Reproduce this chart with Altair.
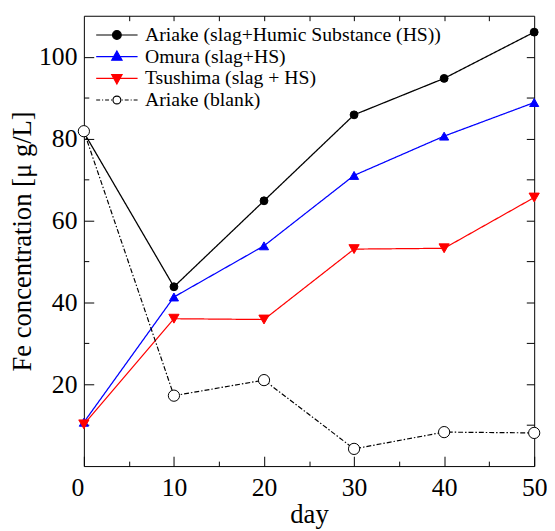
import altair as alt
import pandas as pd

days = [0, 10, 20, 30, 40, 50]
ariake = [81.5, 43.8, 64.8, 85.8, 94.7, 106.0]
omura = [10.7, 41.3, 53.8, 71.0, 80.6, 88.8]
tsushima = [10.2, 36.0, 35.8, 53.0, 53.2, 65.6]
blank = [81.8, 17.2, 21.0, 4.2, 8.3, 8.1]

series_names = [
    "Ariake (slag+Humic Substance (HS))",
    "Omura (slag+HS)",
    "Tsushima (slag + HS)",
    "Ariake (blank)",
]
series_values = [ariake, omura, tsushima, blank]

x_major = [0, 10, 20, 30, 40, 50]
x_minor = [5, 15, 25, 35, 45]
x_top = [5, 10, 15, 20, 25, 30, 35, 40, 45]
y_major = [20, 40, 60, 80, 100]
y_minor = [10, 30, 50, 70, 90]
y_right = [10, 20, 30, 40, 50, 60, 70, 80, 90, 100]

rows = []
for name, vals in zip(series_names, series_values):
    for d, v in zip(days, vals):
        rows.append({"day": d, "value": v, "series": name})
df = pd.DataFrame(rows)

FONT = "Liberation Serif"
line_colors = ["#000000", "#0000ff", "#ff0000", "#000000"]
line_dash = [[1, 0], [1, 0], [1, 0], [5, 2, 1.5, 2]]
line_widths = [1.3, 1.2, 1.2, 1.0]
pt_shapes = ["circle", "triangle-up", "triangle-down", "circle"]
pt_fill = ["#000000", "#0000ff", "#ff0000", "#ffffff"]
pt_stroke = ["#000000", "#0000ff", "#ff0000", "#000000"]
pt_size = [64, 130, 130, 45]

legend_paths = [
    "M-2,0H-0.42M0.42,0H2M0.42,0A0.42,0.42,0,1,1,-0.42,0A0.42,0.42,0,1,1,0.42,0Z",
    "M-2,0H2M0,-0.55L0.5,0.35L-0.5,0.35Z",
    "M-2,0H2M0,0.55L0.5,-0.35L-0.5,-0.35Z",
    "M-2,0H-1.62M-1.43,0H-1.33M-1.14,0H-0.76M-0.57,0H-0.47M0.47,0H0.57M0.76,0H1.14M1.33,0H1.43M1.62,0H2"
    "M0.38,0A0.38,0.38,0,1,1,-0.38,0A0.38,0.38,0,1,1,0.38,0Z",
]

xscale = alt.Scale(domain=[0, 50], nice=False, zero=False)
yscale = alt.Scale(domain=[0, 110], nice=False, zero=False)
dom = alt.Scale(domain=series_names, range=line_colors)

label_align = {"condition": {"test": "datum.value === 0", "value": "right"}, "value": "center"}

lines = alt.Chart(df).mark_line(clip=True).encode(
    x=alt.X("day:Q", scale=xscale,
            axis=alt.Axis(orient="bottom", values=x_major, tickSize={"expr": "-10"},
                          labelAlign=label_align, labelPadding=19, title="day",
                          titlePadding=1, domain=False,
                          labelFont=FONT, titleFont=FONT)),
    y=alt.Y("value:Q", scale=yscale,
            axis=alt.Axis(orient="left", values=y_major, tickSize={"expr": "-10"},
                          labelPadding=17, title="Fe concentration [μ g/L]",
                          titlePadding=2, domain=False,
                          labelFont=FONT, titleFont=FONT)),
    color=alt.Color("series:N", scale=dom, legend=None),
    strokeDash=alt.StrokeDash("series:N", scale=alt.Scale(domain=series_names, range=line_dash), legend=None),
    strokeWidth=alt.StrokeWidth("series:N", scale=alt.Scale(domain=series_names, range=line_widths), legend=None),
)

points = alt.Chart(df).mark_point(opacity=1, strokeWidth=1).encode(
    x=alt.X("day:Q", scale=xscale,
            axis=alt.Axis(orient="bottom", values=x_minor, tickSize={"expr": "-5"},
                          labels=False, title=None, domain=False)),
    y=alt.Y("value:Q", scale=yscale,
            axis=alt.Axis(orient="left", values=y_minor, tickSize={"expr": "-5"},
                          labels=False, title=None, domain=False)),
    shape=alt.Shape("series:N", scale=alt.Scale(domain=series_names, range=pt_shapes), legend=None),
    fill=alt.Fill("series:N", scale=alt.Scale(domain=series_names, range=pt_fill), legend=None),
    stroke=alt.Stroke("series:N", scale=alt.Scale(domain=series_names, range=pt_stroke), legend=None),
    size=alt.Size("series:N", scale=alt.Scale(domain=series_names, range=pt_size), legend=None),
)

leg = alt.Legend(
    title=None, orient="none", legendX=22, legendY=8, padding=0,
    labelFont=FONT, labelFontSize=20, labelColor="black", labelLimit=500,
    labelOffset=17, symbolSize=441, symbolStrokeWidth=1.2, rowPadding=0,
)

legend_layer = alt.Chart(df).transform_filter("false").mark_point(opacity=1).encode(
    x=alt.X("day:Q", scale=xscale,
            axis=alt.Axis(orient="top", values=x_top, tickSize={"expr": "-5"},
                          labels=False, title=None, domain=False)),
    y=alt.Y("value:Q", scale=yscale,
            axis=alt.Axis(orient="right", values=y_right, tickSize={"expr": "-8"},
                          labels=False, title=None, domain=False)),
    shape=alt.Shape("series:N", scale=alt.Scale(domain=series_names, range=legend_paths), legend=leg),
    fill=alt.Fill("series:N", scale=alt.Scale(domain=series_names, range=pt_fill), legend=leg),
    stroke=alt.Stroke("series:N", scale=alt.Scale(domain=series_names, range=pt_stroke), legend=leg),
)

chart = alt.layer(lines, points, legend_layer).resolve_axis(
    x="independent", y="independent"
).resolve_scale(
    shape="independent", fill="independent", stroke="independent"
).properties(
    width=457, height=457,
    autosize=alt.AutoSizeParams(type="none"),
    padding={"left": 77, "top": 4, "right": 13, "bottom": 62},
).configure(
    font=FONT
).configure_view(
    stroke="black", strokeWidth=1
).configure_axis(
    labelFont=FONT, labelFontSize=26, labelColor="black",
    titleFont=FONT, titleFontSize=27, titleFontWeight="normal", titleColor="black",
    tickColor="black", tickWidth=1, grid=False,
).configure_legend(
    labelFont=FONT
)

chart.save("out.html", embed_options={"renderer": "svg", "actions": False})
